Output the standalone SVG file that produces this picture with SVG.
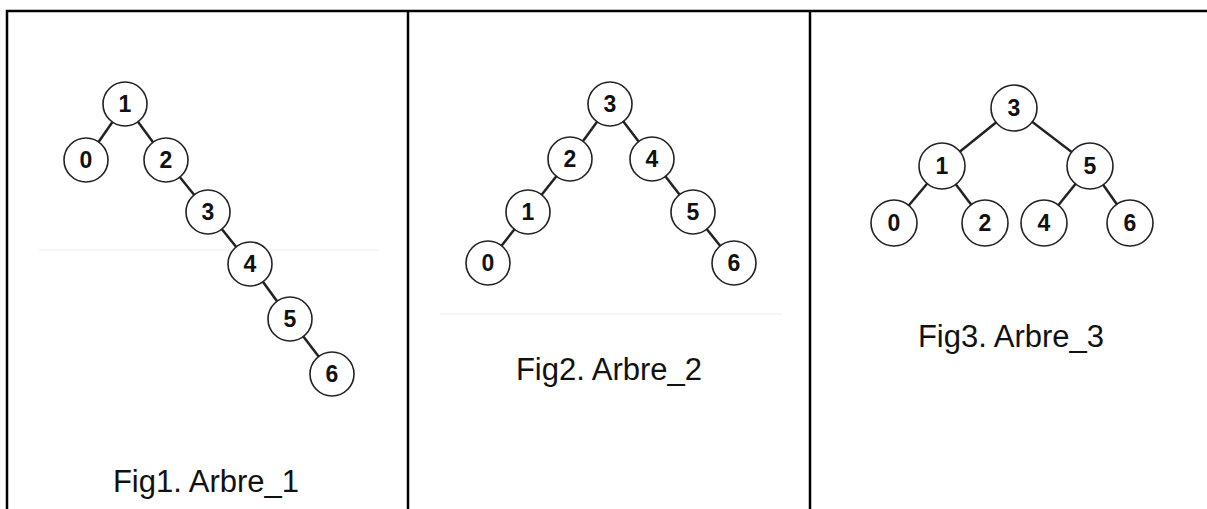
<svg xmlns="http://www.w3.org/2000/svg" width="1207" height="509" viewBox="0 0 1207 509">
<style>
.node circle{fill:#fff;stroke:#222;stroke-width:1.6}
.node text{font-family:"Liberation Sans",Arial,sans-serif;font-weight:bold;font-size:23px;fill:#111;text-anchor:middle}
.edges line{stroke:#222;stroke-width:2.5}
.cap{font-family:"Liberation Sans",Arial,sans-serif;font-size:31px;fill:#111;text-anchor:middle}
.frame{stroke:#000;stroke-width:2.5}
.faint{stroke:#ececec;stroke-width:1}
</style>
<rect width="1207" height="509" fill="#fff"/>
<g id="table">
<line class="frame" x1="6" y1="11" x2="1207" y2="11"/>
<line class="frame" x1="7" y1="10" x2="7" y2="509"/>
<line class="frame" x1="408" y1="10" x2="408" y2="509"/>
<line class="frame" x1="810" y1="10" x2="810" y2="509"/>
</g>
<line class="faint" x1="39" y1="250" x2="379" y2="250"/>
<line class="faint" x1="440" y1="314" x2="782" y2="314"/>
<g class="edges" id="connectors">
<line x1="125" y1="104" x2="86" y2="160"/>
<line x1="125" y1="104" x2="166" y2="160"/>
<line x1="166" y1="160" x2="208" y2="212"/>
<line x1="208" y1="212" x2="250" y2="264"/>
<line x1="250" y1="264" x2="290" y2="319"/>
<line x1="290" y1="319" x2="332" y2="374"/>
<line x1="610" y1="104" x2="570" y2="159"/>
<line x1="610" y1="104" x2="652" y2="159"/>
<line x1="570" y1="159" x2="528" y2="212"/>
<line x1="528" y1="212" x2="488" y2="263"/>
<line x1="652" y1="159" x2="693" y2="212"/>
<line x1="693" y1="212" x2="734" y2="263"/>
<line x1="1014" y1="108" x2="942" y2="166"/>
<line x1="1014" y1="108" x2="1090" y2="166"/>
<line x1="942" y1="166" x2="894" y2="223"/>
<line x1="942" y1="166" x2="985" y2="223"/>
<line x1="1090" y1="166" x2="1044" y2="223"/>
<line x1="1090" y1="166" x2="1130" y2="223"/>
</g>
<g id="t1n1" class="node"><circle cx="125" cy="104" r="22"/><text x="125" y="112">1</text></g>
<g id="t1n0" class="node"><circle cx="86" cy="160" r="22"/><text x="86" y="168">0</text></g>
<g id="t1n2" class="node"><circle cx="166" cy="160" r="22"/><text x="166" y="168">2</text></g>
<g id="t1n3" class="node"><circle cx="208" cy="212" r="22"/><text x="208" y="220">3</text></g>
<g id="t1n4" class="node"><circle cx="250" cy="264" r="22"/><text x="250" y="272">4</text></g>
<g id="t1n5" class="node"><circle cx="290" cy="319" r="22"/><text x="290" y="327">5</text></g>
<g id="t1n6" class="node"><circle cx="332" cy="374" r="22"/><text x="332" y="382">6</text></g>
<g id="t2n3" class="node"><circle cx="610" cy="104" r="22"/><text x="610" y="112">3</text></g>
<g id="t2n2" class="node"><circle cx="570" cy="159" r="22"/><text x="570" y="167">2</text></g>
<g id="t2n4" class="node"><circle cx="652" cy="159" r="22"/><text x="652" y="167">4</text></g>
<g id="t2n1" class="node"><circle cx="528" cy="212" r="22"/><text x="528" y="220">1</text></g>
<g id="t2n5" class="node"><circle cx="693" cy="212" r="22"/><text x="693" y="220">5</text></g>
<g id="t2n0" class="node"><circle cx="488" cy="263" r="22"/><text x="488" y="271">0</text></g>
<g id="t2n6" class="node"><circle cx="734" cy="263" r="22"/><text x="734" y="271">6</text></g>
<g id="t3n3" class="node"><circle cx="1014" cy="108" r="23"/><text x="1014" y="116">3</text></g>
<g id="t3n1" class="node"><circle cx="942" cy="166" r="23"/><text x="942" y="174">1</text></g>
<g id="t3n5" class="node"><circle cx="1090" cy="166" r="23"/><text x="1090" y="174">5</text></g>
<g id="t3n0" class="node"><circle cx="894" cy="223" r="23"/><text x="894" y="231">0</text></g>
<g id="t3n2" class="node"><circle cx="985" cy="223" r="23"/><text x="985" y="231">2</text></g>
<g id="t3n4" class="node"><circle cx="1044" cy="223" r="23"/><text x="1044" y="231">4</text></g>
<g id="t3n6" class="node"><circle cx="1130" cy="223" r="23"/><text x="1130" y="231">6</text></g>
<text id="cap1" class="cap" x="206" y="492">Fig1. Arbre_1</text>
<text id="cap2" class="cap" x="609" y="380">Fig2. Arbre_2</text>
<text id="cap3" class="cap" x="1011" y="347">Fig3. Arbre_3</text>
</svg>
